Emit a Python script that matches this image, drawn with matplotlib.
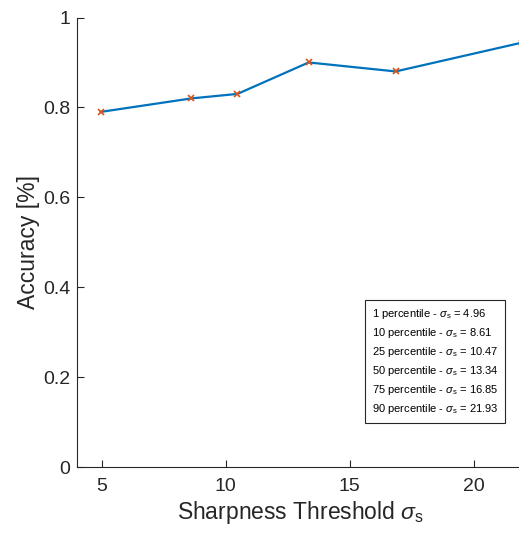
import matplotlib
matplotlib.use("Agg")
import matplotlib.pyplot as plt
from matplotlib.lines import Line2D

thresholds = [4.96, 8.61, 10.47, 13.34, 16.85, 21.93]
accuracy = [0.79, 0.82, 0.83, 0.90, 0.88, 0.944]
percentiles = [1, 10, 25, 50, 75, 90]
xticks = [5, 10, 15, 20]
yticks = [0, 0.2, 0.4, 0.6, 0.8, 1]
yticklabels = ["0", "0.2", "0.4", "0.6", "0.8", "1"]

plt.rcParams['font.family'] = ['Liberation Sans', 'DejaVu Sans']
plt.rcParams['mathtext.fontset'] = 'custom'
plt.rcParams['mathtext.rm'] = 'Liberation Sans'
plt.rcParams['mathtext.it'] = 'Liberation Sans:italic'

W, H = 519, 535
fig = plt.figure(figsize=(W/100, H/100), dpi=100)
left, right, bottom, top = 77, 523.4, 467, 17.5
ax = fig.add_axes([left/W, (H-bottom)/H, (right-left)/W, (bottom-top)/H])

ax.plot(thresholds, accuracy, color='#0072BD', lw=1.6, zorder=2)
ax.plot(thresholds, accuracy, linestyle='none', marker='x', color='#D95319',
        markersize=4, mew=1.2, zorder=3)

ax.set_xlim(4, 22)
ax.set_ylim(0, 1)
ax.set_xticks(xticks)
ax.set_yticks(yticks)
ax.set_yticklabels(yticklabels)

gray = '#262626'
for s in ['top', 'right']:
    ax.spines[s].set_visible(False)
for s in ['left', 'bottom']:
    ax.spines[s].set_color(gray)
    ax.spines[s].set_linewidth(0.8)
ax.tick_params(direction='in', length=5, width=0.8, colors=gray, labelsize=14)
ax.tick_params(axis='x', pad=8)
ax.tick_params(axis='y', pad=5)

ax.set_xlabel(r'Sharpness Threshold $\sigma_{\rm s}$', fontsize=16.5, color=gray, labelpad=3)
ax.set_ylabel('Accuracy [%]', fontsize=16.5, color=gray, labelpad=2)

labels = [f'{p} percentile - $\\sigma_{{\\rm s}}$ = {t:.2f}' for p, t in zip(percentiles, thresholds)]
handles = [Line2D([], [], linestyle='none') for _ in labels]
leg = ax.legend(handles, labels, loc='lower right', bbox_to_anchor=(0.959, 0.0986),
                borderaxespad=0, handlelength=0, handletextpad=0, fontsize=8,
                fancybox=False, framealpha=1, edgecolor='#262626',
                labelspacing=0.45, borderpad=0.6)
leg.get_frame().set_linewidth(0.8)

fig.savefig('out.png', dpi=100)
